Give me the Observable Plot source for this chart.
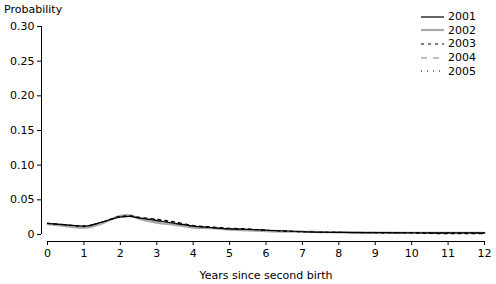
<!DOCTYPE html>
<html><head><meta charset="utf-8">
<script src="https://cdn.jsdelivr.net/npm/d3@7"></script>
<script src="https://cdn.jsdelivr.net/npm/@observablehq/plot@0.6"></script>
<style>
body{margin:0;background:#fff;font-family:"DejaVu Sans",sans-serif;}
#wrap{position:relative;width:496px;height:284px;}
#title{position:absolute;left:4px;top:3px;font-size:11px;color:#000;}
#legend{position:absolute;left:421px;top:10px;font-size:11px;}
#legend div{display:flex;align-items:center;height:13.6px;}
#legend svg{margin-right:4px;}
</style></head><body>
<div id="wrap"><div id="title">Probability</div><div id="chart"></div><div id="legend"></div></div>
<script>
const years = [0,0.5,1,1.5,2,2.25,2.5,3,3.5,4,4.5,5,5.5,6,7,8,9,10,11,12];
const s2001 = [0.016,0.014,0.012,0.018,0.025,0.026,0.024,0.020,0.016,0.012,0.010,0.008,0.0075,0.0065,0.004,0.003,0.0027,0.0025,0.0024,0.0024];
const s2002 = [0.015,0.012,0.0095,0.016,0.027,0.028,0.023,0.017,0.014,0.010,0.009,0.007,0.006,0.005,0.004,0.003,0.0026,0.0024,0.0023,0.0023];
const s2003 = [0.016,0.014,0.012,0.018,0.026,0.027,0.025,0.022,0.018,0.013,0.011,0.009,0.008,0.006,0.004,0.003,0.0025,0.0022,0.0012,0.0012];
const s2004 = [0.016,0.013,0.011,0.017,0.026,0.027,0.023,0.019,0.016,0.012,0.010,0.008,0.007,0.0055,0.0045,0.0035,0.0027,0.0024,0.0022,0.0022];
const s2005 = [0.016,0.014,0.012,0.018,0.025,0.026,0.024,0.021,0.017,0.012,0.010,0.008,0.0075,0.006,0.004,0.003,0.0026,0.0024,0.0023,0.0023];
const seriesNames = ["2001","2002","2003","2004","2005"];
const seriesVals = [s2001,s2002,s2003,s2004,s2005];
const styles = {
  "2001":{stroke:"#000",strokeWidth:1.2,dash:null},
  "2002":{stroke:"#aaa",strokeWidth:2.2,dash:null},
  "2003":{stroke:"#000",strokeWidth:1.2,dash:"3,4"},
  "2004":{stroke:"#aaa",strokeWidth:1.6,dash:"6,6"},
  "2005":{stroke:"#000",strokeWidth:1.2,dash:"1,5"}
};
const xTicks = d3.range(0,13);
const yTicks = [0,0.05,0.10,0.15,0.20,0.25,0.30];
const yLabels = ["0","0.05","0.10","0.15","0.20","0.25","0.30"];

const order = ["2002","2004","2001","2003","2005"];
const lineMarks = order.map(n => {
  const vals = seriesVals[seriesNames.indexOf(n)];
  const data = years.map((x,i)=>({x, y: vals[i]}));
  const st = styles[n];
  return Plot.line(data,{x:"x",y:"y",stroke:st.stroke,strokeWidth:st.strokeWidth,strokeDasharray:st.dash,curve:"monotone-x"});
});

const chart = Plot.plot({
  width:496, height:284,
  marginLeft:47, marginRight:12, marginTop:26, marginBottom:50,
  style:{fontFamily:"DejaVu Sans, sans-serif", fontSize:"11px", color:"#000", background:"#fff"},
  x:{domain:[0,12]},
  y:{domain:[0,0.30]},
  marks:[
    Plot.axisY(yTicks,{tickSize:4, dx:-6, tickPadding:3, tickFormat:(d,i)=>yLabels[yTicks.indexOf(d)], label:null, stroke:"#000"}),
    Plot.ruleX([0],{y1:0,y2:0.30,dx:-6,stroke:"#000"}),
    Plot.axisX(xTicks,{tickSize:4, dy:7, tickPadding:4, label:null, stroke:"#000"}),
    Plot.ruleY([0],{x1:0,x2:12,dy:7,stroke:"#000"}),
    Plot.text(["Years since second birth"],{frameAnchor:"bottom",dy:44,fontSize:11}),
    ...lineMarks
  ]
});
document.getElementById("chart").appendChild(chart);

const leg = document.getElementById("legend");
seriesNames.forEach(n=>{
  const st = styles[n];
  const row = document.createElement("div");
  row.innerHTML = `<svg width="23" height="6"><line x1="0" x2="23" y1="3" y2="3" stroke="${st.stroke}" stroke-width="${st.strokeWidth}" ${st.dash?`stroke-dasharray="${st.dash}"`:""}/></svg><span>${n}</span>`;
  leg.appendChild(row);
});
</script></body></html>
